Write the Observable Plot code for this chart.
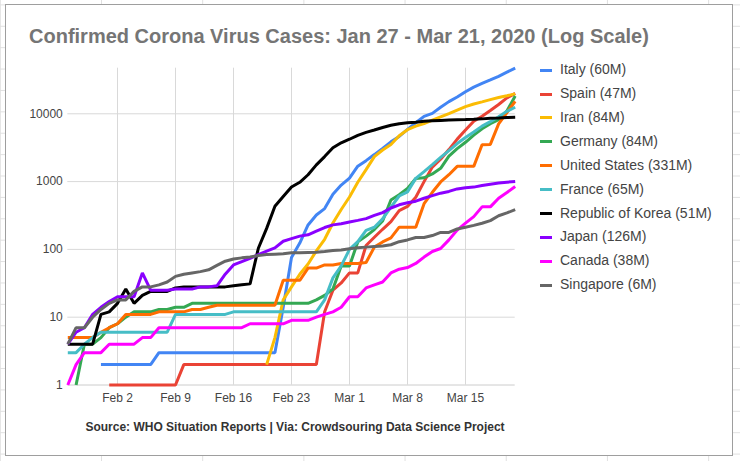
<!DOCTYPE html>
<html>
<head>
<meta charset="utf-8">
<script src="https://cdn.jsdelivr.net/npm/d3@7"></script>
<script src="https://cdn.jsdelivr.net/npm/@observablehq/plot@0.6"></script>
<style>
  html, body { margin: 0; padding: 0; }
  #page {
    position: relative; width: 740px; height: 461px; overflow: hidden;
    background-color: #fff;
    background-image:
      linear-gradient(to right, #e0e0e0 1px, transparent 1px),
      linear-gradient(to bottom, #e0e0e0 1px, transparent 1px);
    background-size: 101.2px 21.4px;
    background-position: 101px 4.4px;
    font-family: "Liberation Sans", Arial, sans-serif;
  }
  #frame {
    position: absolute; left: 5px; top: 4px; width: 726px; height: 450px;
    border: 1px solid #9e9e9e; background: #fff;
  }
  #chart { position: absolute; left: 0; top: 0; }
  #title {
    position: absolute; left: 29px; top: 26px; white-space: nowrap;
    font-size: 20px; line-height: 20px; font-weight: bold; color: #757575;
  }
  #legend { position: absolute; left: 540px; top: 58.2px; }
  .row { height: 23.9px; line-height: 23.9px; font-size: 14px; color: #444; white-space: nowrap; display: flex; align-items: center; }
  .sw { width: 12px; height: 3px; margin-right: 8px; }
  #caption {
    position: absolute; left: 0; width: 590px; top: 420.8px; text-align: center;
    font-size: 12px; line-height: 12px; font-weight: bold; color: #333; white-space: nowrap;
  }
</style>
</head>
<body>
<div id="page">
  <div id="frame"></div>
  <div id="chart"></div>
  <div id="title"></div>
  <div id="legend"></div>
  <div id="caption"></div>
</div>
<script>
// ---- Data (Jan 27 .. Mar 21, 2020; one value per day, null = not yet reported) ----
const startDate = new Date(Date.UTC(2020, 0, 27));
const endDate = new Date(Date.UTC(2020, 2, 21));

const countries = ["Italy (60M)", "Spain (47M)", "Iran (84M)", "Germany (84M)", "United States (331M)",
  "France (65M)", "Republic of Korea (51M)", "Japan (126M)", "Canada (38M)", "Singapore (6M)"];
const colors = ["#4285f4", "#ea4335", "#fbbc04", "#34a853", "#ff6d01",
  "#46bdc6", "#000000", "#8a00ff", "#ff00ff", "#666666"];

const italy = [null,null,null,null,2,2,2,2,2,2,2,3,3,3,3,3,3,3,3,3,3,3,3,3,3,3,
  14,76,124,229,322,400,650,888,1128,1689,2036,2502,3089,3858,4636,5883,7375,9172,10149,12462,15113,17660,21157,24747,27980,31506,35713,41035,47021];
const spain = [null,null,null,null,null,1,1,1,1,1,1,1,1,1,2,2,2,2,2,2,2,2,2,2,2,2,2,2,2,2,2,
  12,25,32,45,45,114,151,198,257,374,430,589,999,1639,2140,2965,4231,5753,7753,9191,11178,13716,17147,19980];
const iran = [null,null,null,null,null,null,null,null,null,null,null,null,null,null,null,null,null,null,null,null,null,null,null,null,
  2,5,18,28,43,61,95,141,245,388,593,978,1501,2336,2922,3513,4747,5823,6566,7161,8042,9000,10075,11364,12729,13938,14991,16169,17361,18407,19644];
const germany = [null,1,4,4,5,7,8,10,12,12,12,13,13,14,14,16,16,16,16,16,16,16,16,16,16,16,16,16,16,16,
  18,21,26,57,57,129,157,196,262,534,639,795,1112,1139,1296,1567,2369,3062,3795,4838,6012,7156,8198,10999,18323];
const unitedStates = [5,5,5,5,6,7,8,11,11,11,11,12,12,12,12,13,13,14,15,15,15,15,15,15,15,15,
  35,35,35,53,53,59,59,62,62,62,64,108,129,148,213,213,213,472,696,987,1264,1678,1678,1678,3503,3536,7087,10442,15219];
const france = [3,3,4,5,6,6,6,6,6,6,6,6,6,11,11,11,11,11,11,11,12,12,12,12,12,12,12,12,12,12,12,
  18,38,57,100,130,191,212,282,420,613,706,1116,1402,1774,2269,2860,3640,4469,5380,6573,7652,9043,10871,12475];
const korea = [4,4,4,4,11,12,16,26,16,21,24,24,24,27,28,28,28,28,28,28,29,30,31,
  104,204,433,602,833,977,1261,1766,2337,3150,3736,4212,4812,5328,5766,6284,6767,7134,7382,7513,7755,7869,7979,8086,8162,8236,8320,8413,8565,8652,8799,8897];
const japan = [4,6,7,11,14,17,20,20,20,45,25,25,25,26,26,26,28,28,29,43,
  59,66,74,84,94,105,132,144,157,164,186,210,230,239,254,268,284,317,349,408,455,488,514,568,620,675,716,780,814,829,873,914,950,980,1007];
const canada = [1,2,3,3,3,4,4,4,4,5,5,7,7,7,7,7,7,7,7,7,7,7,8,8,8,8,8,9,9,9,
  10,11,12,14,20,20,27,30,33,45,51,54,62,77,93,103,138,193,244,304,424,424,569,690,846];
const singapore = [4,7,7,10,13,16,18,18,24,28,28,30,33,40,43,45,47,50,58,67,72,75,77,81,84,85,86,89,89,90,
  91,93,96,98,102,106,108,110,112,117,130,138,150,150,160,178,178,200,212,226,243,266,313,345,385];

const series = [italy, spain, iran, germany, unitedStates, france, korea, japan, canada, singapore];

const xTickDates = ["2020-02-02","2020-02-09","2020-02-16","2020-02-23","2020-03-01","2020-03-08","2020-03-15"];
const yTicks = [1, 10, 100, 1000, 10000];
const yGrid = [10, 100, 1000, 10000];

const titleText = "Confirmed Corona Virus Cases: Jan 27 - Mar 21, 2020 (Log Scale)";
const captionText = "Source: WHO Situation Reports | Via: Crowdsouring Data Science Project";

// ---- Build table ----
const days = d3.utcDays(startDate, d3.utcDay.offset(endDate, 1));
const rows = [];
series.forEach((vals, si) => {
  vals.forEach((v, i) => {
    if (v != null) rows.push({date: days[i], country: countries[si], value: v});
  });
});
const xTicks = xTickDates.map(s => new Date(s + "T00:00:00Z"));
const yMax = d3.max(rows, d => d.value);

const chart = Plot.plot({
  width: 740,
  height: 461,
  marginLeft: 67.3,
  marginRight: 225.3,
  marginTop: 67.7,
  marginBottom: 76.5,
  style: {background: "transparent", fontFamily: "'Liberation Sans', Arial, sans-serif", fontSize: "12px", color: "#444", overflow: "visible"},
  x: {type: "utc", domain: [startDate, endDate], label: null},
  y: {type: "log", domain: [1, yMax], label: null},
  color: {domain: countries, range: colors},
  marks: [
    Plot.gridX(xTicks, {stroke: "#d9d9d9", strokeOpacity: 1}),
    Plot.gridY(yGrid, {stroke: "#d9d9d9", strokeOpacity: 1}),
    Plot.ruleY([1], {stroke: "#cccccc"}),
    Plot.axisX(xTicks, {tickSize: 0, tickPadding: 8, tickFormat: d3.utcFormat("%b %-d"), fill: "#444", label: null}),
    Plot.axisY(yTicks, {tickSize: 0, tickPadding: 5, tickFormat: d => String(d), fill: "#444", label: null}),
    Plot.line(rows, {x: "date", y: "value", z: "country", stroke: "country", strokeWidth: 3,
      strokeLinejoin: "miter", strokeLinecap: "butt", sort: null})
  ]
});
document.getElementById("chart").appendChild(chart);

document.getElementById("title").textContent = titleText;
document.getElementById("caption").textContent = captionText;
const legend = document.getElementById("legend");
countries.forEach((c, i) => {
  const row = document.createElement("div");
  row.className = "row";
  const sw = document.createElement("span");
  sw.className = "sw";
  sw.style.background = colors[i];
  const t = document.createElement("span");
  t.textContent = c;
  row.appendChild(sw);
  row.appendChild(t);
  legend.appendChild(row);
});
</script>
</body>
</html>
